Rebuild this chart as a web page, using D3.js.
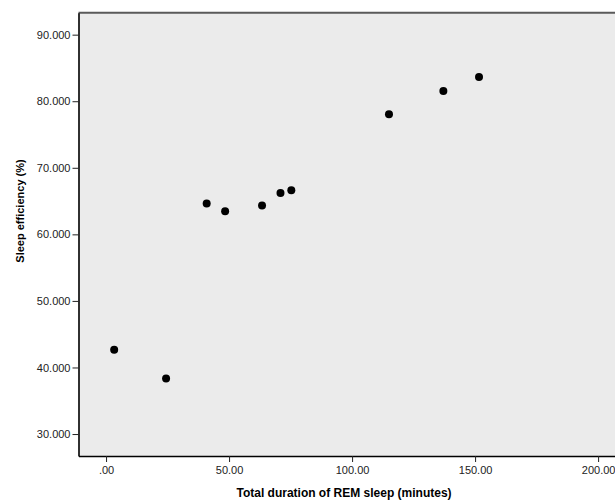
<!DOCTYPE html>
<meta charset="utf-8">
<style>
  body { margin: 0; background: #fff; }
  .tick text { font-family: "Liberation Sans", Arial, sans-serif; font-size: 11px; fill: #222; }
  .title { font-family: "Liberation Sans", Arial, sans-serif; font-weight: bold; fill: #000; }
</style>
<body>
<svg width="615" height="502"></svg>
<script src="https://d3js.org/d3.v7.min.js"></script>
<script>

// REM sleep (minutes) vs sleep efficiency (%)
var remMinutes = [3.3, 24.4, 40.9, 48.4, 63.4, 70.9, 75.3, 115.0, 137.1, 151.6];
var efficiency = [42.66, 38.35, 64.63, 63.48, 64.32, 66.2, 66.64, 78.05, 81.55, 83.65];
var xTicks = [0, 50, 100, 150, 200];
var yTicks = [30, 40, 50, 60, 70, 80, 90];

var svg = d3.select("svg");

// plot box (right edge runs past the window, like the original)
var plotLeft = 78.5, plotRight = 620, plotTop = 12.7, plotBottom = 456;

var x = d3.scaleLinear()
    .domain([-11.2, 208.9])
    .range([plotLeft, plotRight]);
var y = d3.scaleLinear()
    .domain([26.7, 93.3])
    .range([plotBottom, plotTop]);

// plot background
svg.append("rect")
    .attr("x", plotLeft)
    .attr("y", plotTop)
    .attr("width", plotRight - plotLeft)
    .attr("height", plotBottom - plotTop)
    .attr("fill", "#ebebeb");

// top frame line
svg.append("line")
    .attr("x1", plotLeft).attr("x2", plotRight)
    .attr("y1", plotTop).attr("y2", plotTop)
    .attr("stroke", "#5a5a5a").attr("stroke-width", 2);

var xAxis = d3.axisBottom(x)
    .tickValues(xTicks)
    .tickSize(6)
    .tickPadding(4)
    .tickSizeOuter(0)
    .tickFormat(function (d) { return d3.format(".2f")(d).replace(/^0\./, "."); });

var yAxis = d3.axisLeft(y)
    .tickValues(yTicks)
    .tickSize(6)
    .tickPadding(2)
    .tickSizeOuter(0)
    .tickFormat(d3.format(".3f"));

var gx = svg.append("g")
    .attr("transform", "translate(0," + plotBottom + ")")
    .call(xAxis);
gx.select(".domain").attr("stroke", "#000").attr("stroke-width", 1.6);
gx.selectAll(".tick line").attr("stroke", "#222");

var gy = svg.append("g")
    .attr("transform", "translate(" + plotLeft + ",0)")
    .call(yAxis);
gy.select(".domain").attr("stroke", "#000").attr("stroke-width", 1.6);
gy.selectAll(".tick line").attr("stroke", "#222");

svg.append("g")
    .selectAll("circle")
    .data(remMinutes)
    .enter().append("circle")
        .attr("cx", function (d) { return x(d); })
        .attr("cy", function (d, i) { return y(efficiency[i]); })
        .attr("r", 4)
        .attr("fill", "#000");

svg.append("text")
    .attr("class", "title")
    .attr("x", 344)
    .attr("y", 497)
    .attr("text-anchor", "middle")
    .style("font-size", "12px")
    .text("Total duration of REM sleep (minutes)");

svg.append("text")
    .attr("class", "title")
    .attr("transform", "translate(24,211) rotate(-90)")
    .attr("text-anchor", "middle")
    .style("font-size", "11px")
    .text("Sleep efficiency (%)");

</script>
</body>
